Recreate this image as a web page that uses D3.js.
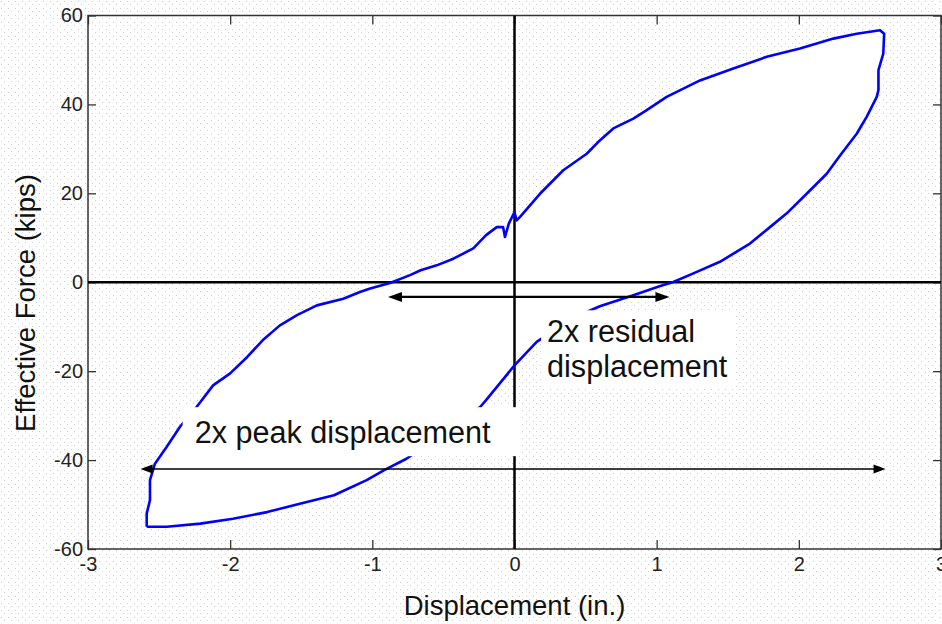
<!DOCTYPE html>
<html>
<head>
<meta charset="utf-8">
<script src="https://cdn.jsdelivr.net/npm/d3@7"></script>
<style>
  html, body { margin: 0; padding: 0; background: #fff; }
  svg { display: block; }
  text { font-family: "Liberation Sans", Arial, sans-serif; }
</style>
</head>
<body>
<svg id="chart" width="942" height="624"></svg>
<script>
// ---- Data ----
const xTicks = [-3, -2, -1, 0, 1, 2, 3];
const yTicks = [-60, -40, -20, 0, 20, 40, 60];
const xTitle = "Displacement (in.)";
const yTitle = "Effective Force (kips)";

// hysteresis loop: displacement (in.) and effective force (kips)
const displacement = [
  -2.587, -2.446, -2.21, -1.98, -1.74, -1.51, -1.27, -1.04, -0.92, -0.76, -0.45, -0.24,
  -0.2, 0.0, 0.156, 0.40, 0.6, 0.836, 1.02, 1.117, 1.258, 1.445, 1.656, 1.797, 1.915,
  2.055, 2.196, 2.29, 2.407, 2.477, 2.548, 2.56, 2.56, 2.594, 2.60, 2.571,
  2.407, 2.243, 2.008, 1.774, 1.539, 1.305, 1.07, 0.93, 0.836, 0.695, 0.6, 0.508,
  0.343, 0.179, 0.039, 0.015, 0.0, -0.04, -0.067, -0.08, -0.125, -0.2, -0.29, -0.43,
  -0.547, -0.66, -0.735, -0.876, -1.015, -1.087, -1.204, -1.39, -1.53, -1.65, -1.77,
  -1.88, -2.0, -2.12, -2.235, -2.353, -2.446, -2.529, -2.564, -2.564, -2.587, -2.587
];
const force = [
  -55.0, -55.0, -54.3, -53.2, -51.7, -49.8, -47.9, -44.5, -42.3, -39.7, -33.0, -28.0,
  -26.5, -18.7, -13.4, -8.2, -5.4, -2.9, -0.9, 0.07, 2.0, 4.6, 8.7, 12.4, 15.5,
  19.9, 24.4, 28.5, 33.4, 37.2, 41.7, 43.2, 47.7, 51.4, 55.9, 56.7,
  55.9, 54.8, 52.6, 50.7, 48.1, 45.4, 41.7, 38.7, 36.8, 34.6, 31.9, 28.9,
  25.2, 19.9, 14.7, 13.9, 15.8, 13.2, 10.2, 12.4, 12.4, 10.6, 7.6, 5.3,
  3.8, 2.7, 1.6, -0.15, -1.4, -2.2, -3.7, -5.2, -7.4, -9.7, -13.0,
  -16.8, -20.5, -23.2, -28.0, -32.5, -37.0, -40.8, -44.5, -49.0, -52.0, -55.0
];

// annotations
const residualArrow = [-0.89, 1.09];   // displacement span
const residualArrowForce = -3.3;
const peakArrow = [-2.63, 2.61];
const peakArrowForce = -42;
const residualLabel = ["2x residual", "displacement"];
const residualLabelPos = [0.229, -13.5];
const peakLabel = "2x peak displacement";
const peakLabelPos = [-2.25, -36.2];

// ---- Drawing ----
const svg = d3.select("#chart");
const W = 942, H = 624;
const x = d3.scaleLinear().domain([-3, 3]).range([88, 941]);
const y = d3.scaleLinear().domain([-60, 60]).range([549, 15.5]);

// dotted background
const defs = svg.append("defs");
const pat = defs.append("pattern").attr("id", "dots")
  .attr("width", 7).attr("height", 7).attr("patternUnits", "userSpaceOnUse");
pat.append("rect").attr("width", 7).attr("height", 7).attr("fill", "#fff");
pat.append("rect").attr("x", 1).attr("y", 1).attr("width", 1).attr("height", 1).attr("fill", "#cfcfcf");
pat.append("rect").attr("x", 4).attr("y", 4).attr("width", 1).attr("height", 1).attr("fill", "#cfcfcf");
svg.append("rect").attr("width", W).attr("height", H).attr("fill", "url(#dots)");

const pts = displacement.map((d, i) => [d, force[i]]);
const line = d3.line().x(d => x(d[0])).y(d => y(d[1]));

// white interior of the loop
svg.append("path").attr("d", line(pts) + "Z").attr("fill", "#fff").attr("stroke", "none");

// axes (ticks inward)
const fmt = d => String(d);
const axB = d3.axisBottom(x).tickValues(xTicks).tickFormat(fmt).tickSizeInner(-9).tickSizeOuter(0).tickPadding(7.5);
const axT = d3.axisTop(x).tickValues(xTicks).tickSizeInner(-9).tickSizeOuter(0).tickFormat("");
const axL = d3.axisLeft(y).tickValues(yTicks).tickFormat(fmt).tickSizeInner(-8).tickSizeOuter(0).tickPadding(5);
const axR = d3.axisRight(y).tickValues(yTicks).tickSizeInner(-8).tickSizeOuter(0).tickFormat("");

function styleAxis(g, fs) {
  g.select(".domain").remove();
  g.selectAll(".tick line").attr("stroke", "#333").attr("stroke-width", 1.3);
  g.selectAll(".tick text").attr("fill", "#222").attr("font-size", fs)
    .attr("font-family", "'Liberation Sans', Arial, sans-serif");
}
svg.append("g").attr("transform", `translate(0,${y(-60)})`).call(axB).call(styleAxis, 20);
svg.append("g").attr("transform", `translate(0,${y(60)})`).call(axT).call(styleAxis, 20);
svg.append("g").attr("transform", `translate(${x(-3)},0)`).call(axL).call(styleAxis, 20);
svg.append("g").attr("transform", `translate(${x(3)},0)`).call(axR).call(styleAxis, 20);

// frame
svg.append("rect").attr("x", x(-3)).attr("y", y(60))
  .attr("width", x(3) - x(-3)).attr("height", y(-60) - y(60))
  .attr("fill", "none").attr("stroke", "#333").attr("stroke-width", 1.5);

// zero lines
svg.append("line").attr("x1", x(-3)).attr("x2", x(3)).attr("y1", y(0)).attr("y2", y(0))
  .attr("stroke", "#000").attr("stroke-width", 2.5);
svg.append("line").attr("x1", x(0)).attr("x2", x(0)).attr("y1", y(60)).attr("y2", y(-60))
  .attr("stroke", "#000").attr("stroke-width", 2.5);

// loop curve
svg.append("path").attr("d", line(pts)).attr("fill", "none")
  .attr("stroke", "#0000ff").attr("stroke-width", 2.6).attr("stroke-linejoin", "round");

// arrows
function dblArrow(span, f, sw, hl, hw) {
  const yy = y(f), x1 = x(span[0]), x2 = x(span[1]);
  svg.append("line").attr("x1", x1 + hl * 0.8).attr("x2", x2 - hl * 0.8)
    .attr("y1", yy).attr("y2", yy).attr("stroke", "#000").attr("stroke-width", sw);
  svg.append("path").attr("d", `M${x1},${yy}L${x1 + hl},${yy - hw / 2}L${x1 + hl},${yy + hw / 2}Z`).attr("fill", "#000");
  svg.append("path").attr("d", `M${x2},${yy}L${x2 - hl},${yy - hw / 2}L${x2 - hl},${yy + hw / 2}Z`).attr("fill", "#000");
}
dblArrow(residualArrow, residualArrowForce, 2.2, 14, 10);
dblArrow(peakArrow, peakArrowForce, 1.6, 12, 9);

// annotation text boxes
function labelBox(lines, pos, pad) {
  const g = svg.append("g");
  const rect = g.append("rect").attr("fill", "#fff");
  const t = g.append("text").attr("x", x(pos[0])).attr("y", y(pos[1]))
    .attr("font-size", 30.6).attr("fill", "#111");
  lines.forEach((s, i) => {
    t.append("tspan").attr("x", x(pos[0])).attr("dy", i === 0 ? 0 : 35).text(s);
  });
  const b = t.node().getBBox();
  rect.attr("x", b.x - pad[0]).attr("y", b.y - pad[1])
    .attr("width", b.width + pad[0] + pad[2]).attr("height", b.height + pad[1] + pad[3]);
}
labelBox([peakLabel], peakLabelPos, [12, 8, 30, 6]);
labelBox(residualLabel, residualLabelPos, [6, 4, 8, 4]);

// axis titles
svg.append("text").attr("x", x(0)).attr("y", 615).attr("text-anchor", "middle")
  .attr("font-size", 27.5).attr("fill", "#111").text(xTitle);
svg.append("text").attr("transform", `translate(35,303) rotate(-90)`)
  .attr("text-anchor", "middle").attr("font-size", 27.5).attr("fill", "#111").text(yTitle);
</script>
</body>
</html>
